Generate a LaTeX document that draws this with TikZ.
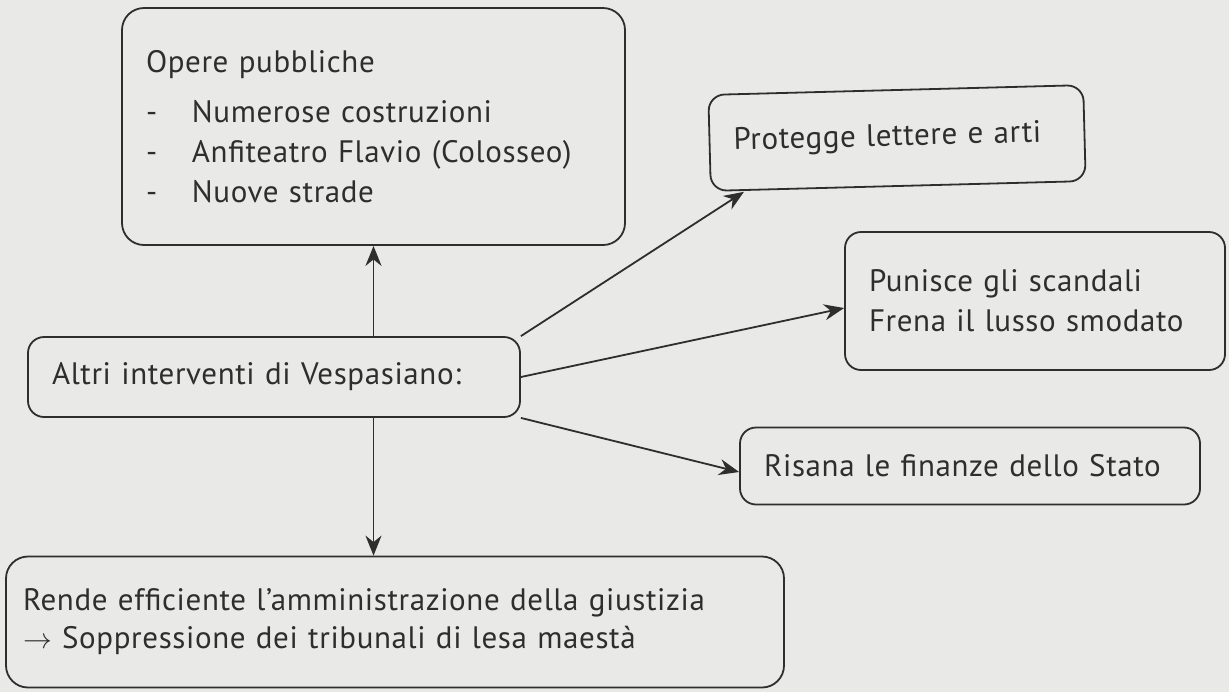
\documentclass[tikz,border=0pt]{standalone}
\usepackage{fontspec}
\setmainfont[LetterSpace=2]{PT Sans}
\usetikzlibrary{arrows.meta}

\definecolor{paper}{HTML}{E9E9E7}
\definecolor{ink}{HTML}{2E2E2E}

\tikzset{
	box/.style={draw=ink, line width=0.9pt, rounded corners=8pt, text=ink,
		inner xsep=12pt, align=left, font=\fontsize{15.5}{20}\selectfont},
	link/.style={draw=ink, line width=0.9pt, -{Stealth[length=10pt,width=8pt]}}
}

\begin{document}
\begin{tikzpicture}[x=0.5pt,y=-0.5pt]
	\fill[paper] (0,0) rectangle (1229,692);
	\useasboundingbox (0,0) rectangle (1229,692);

	\node[box, minimum height=118.5pt, text width=227.5pt, rounded corners=11pt] (opere) at (373.5,126.5)
		{Opere pubbliche\\[5pt]
		\makebox[23pt][l]{-}Numerose costruzioni\\
		\makebox[23pt][l]{-}Anfiteatro Flavio (Colosseo)\\
		\makebox[23pt][l]{-}Nuove strade};

	\node[box, minimum height=40pt, text width=222pt] (altri) at (274,377)
		{Altri interventi di Vespasiano:};

	\node[box, minimum height=48pt, text width=163.5pt, rotate=1.5] (arti) at (897,138)
		{Protegge lettere e arti};

	\node[box, minimum height=69pt, text width=166pt] (scandali) at (1035,301)
		{Punisce gli scandali\\Frena il lusso smodato};

	\node[box, minimum height=38.5pt, text width=206pt] (finanze) at (970,466)
		{Risana le finanze dello Stato};

	\node[box, minimum height=65.5pt, text width=372pt, inner xsep=8.5pt, rounded corners=11pt,
		font=\fontsize{15.5}{19}\selectfont] (giustizia) at (395,622)
		{Rende efficiente l'amministrazione della giustizia\\
		$\rightarrow$ Soppressione dei tribunali di lesa maestà};

	% connectors
	\draw[link] (opere.south |- altri.north) -- (opere.south);
	\draw[link] (altri.north east) -- ([xshift=17pt]arti.south west);
	\draw[link] (altri.east) -- ([yshift=-3.5pt]scandali.west);
	\draw[link] (altri.south east) -- ([yshift=-3pt]finanze.west);
	\draw[link] (opere.south |- altri.south) -- (opere.south |- giustizia.north);
\end{tikzpicture}
\end{document}
